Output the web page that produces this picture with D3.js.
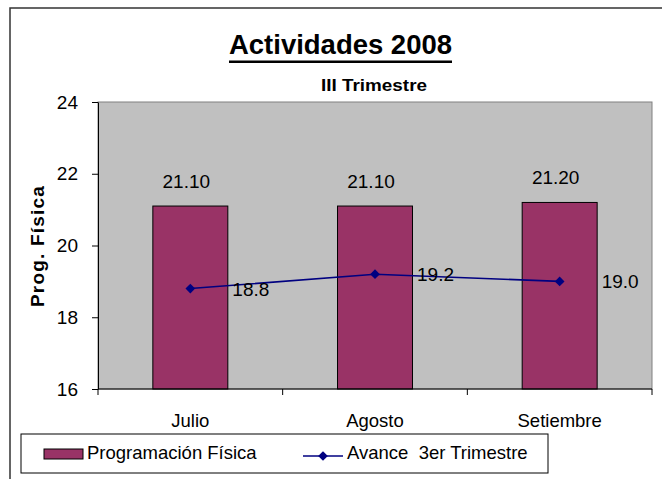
<!DOCTYPE html>
<html>
<head>
<meta charset="utf-8">
<script src="https://cdn.jsdelivr.net/npm/d3@7"></script>
<style>
  body { margin: 0; background: #fff; }
  svg { display: block; font-family: "Liberation Sans", Arial, sans-serif; }
</style>
</head>
<body>
<div id="chart"></div>
<script>
const months = ['Julio', 'Agosto', 'Setiembre'];
const programacion = [21.10, 21.10, 21.20];
const avance = [18.8, 19.2, 19.0];
const yTicks = [16, 18, 20, 22, 24];

const W = 662, H = 479;
const plot = { left: 98, right: 652, top: 102, bottom: 389 };

const svg = d3.select('#chart').append('svg')
    .attr('width', W)
    .attr('height', H);

// outer frame (runs past the picture edge)
svg.append('rect')
    .attr('x', 10).attr('y', 8)
    .attr('width', 700).attr('height', 520)
    .attr('fill', '#fff')
    .attr('stroke', '#333')
    .attr('stroke-width', 1.5);

const x = d3.scaleBand()
    .domain(months)
    .range([plot.left, plot.right])
    .padding(0);

const y = d3.scaleLinear()
    .domain([16, 24])
    .range([plot.bottom, plot.top]);

// plot area
svg.append('rect')
    .attr('x', plot.left).attr('y', plot.top)
    .attr('width', plot.right - plot.left)
    .attr('height', plot.bottom - plot.top)
    .attr('fill', '#c0c0c0')
    .attr('stroke', '#808080')
    .attr('stroke-width', 1);

// bars
const barW = x.bandwidth() * 0.406;
svg.selectAll('.bar')
    .data(programacion)
    .join('rect')
    .attr('class', 'bar')
    .attr('x', (d, i) => x(months[i]) + x.bandwidth() / 2 - barW / 2)
    .attr('y', d => y(d))
    .attr('width', barW)
    .attr('height', d => y(16) - y(d))
    .attr('fill', '#993366')
    .attr('stroke', '#000')
    .attr('stroke-width', 1);

svg.selectAll('.bar-label')
    .data(programacion)
    .join('text')
    .attr('class', 'bar-label')
    .attr('x', (d, i) => x(months[i]) + x.bandwidth() / 2 - 4)
    .attr('y', d => y(d) - 18)
    .attr('text-anchor', 'middle')
    .style('font-size', '19px')
    .text(d => d.toFixed(2));

// line series
const cx = (d, i) => x(months[i]) + x.bandwidth() / 2;
const line = d3.line()
    .x(cx)
    .y(d => y(d));

svg.append('path')
    .datum(avance)
    .attr('d', line)
    .attr('fill', 'none')
    .attr('stroke', '#000080')
    .attr('stroke-width', 1.6);

const diamond = d3.symbol().type(d3.symbolDiamond2).size(60);
svg.selectAll('.pt')
    .data(avance)
    .join('path')
    .attr('class', 'pt')
    .attr('d', diamond)
    .attr('transform', (d, i) => `translate(${cx(d, i)},${y(d)})`)
    .attr('fill', '#000080');

svg.selectAll('.pt-label')
    .data(avance)
    .join('text')
    .attr('class', 'pt-label')
    .attr('x', (d, i) => cx(d, i) + 42)
    .attr('y', d => y(d) + 7)
    .style('font-size', '19px')
    .text(d => d.toFixed(1));

// y axis
const yAxis = svg.append('g')
    .attr('transform', `translate(${plot.left},0)`)
    .call(d3.axisLeft(y).tickValues(yTicks).tickSize(6).tickPadding(14).tickSizeOuter(0));
yAxis.selectAll('text').style('font-size', '19px').attr('fill', '#000');
yAxis.selectAll('line, path').attr('stroke', '#000');

// x axis: ticks on category boundaries
const xAxis = svg.append('g')
    .attr('transform', `translate(0,${plot.bottom})`);
xAxis.append('line')
    .attr('x1', plot.left).attr('x2', plot.right)
    .attr('stroke', '#000');
const bounds = months.map(m => x(m)).concat([plot.right]);
xAxis.selectAll('.xt')
    .data(bounds)
    .join('line')
    .attr('class', 'xt')
    .attr('x1', d => d).attr('x2', d => d)
    .attr('y1', 0).attr('y2', 6)
    .attr('stroke', '#000');
xAxis.selectAll('.xl')
    .data(months)
    .join('text')
    .attr('class', 'xl')
    .attr('x', d => x(d) + x.bandwidth() / 2)
    .attr('y', 38)
    .attr('text-anchor', 'middle')
    .style('font-size', '18.5px')
    .text(d => d);

// y axis title
svg.append('text')
    .attr('transform', 'rotate(-90)')
    .attr('x', -246)
    .attr('y', 44)
    .attr('text-anchor', 'middle')
    .style('font-size', '19px')
    .style('font-weight', 'bold')
    .style('letter-spacing', '1.2px')
    .text('Prog. Física');

// titles
svg.append('text')
    .attr('x', 340.5)
    .attr('y', 54)
    .attr('text-anchor', 'middle')
    .style('font-size', '28px')
    .style('font-weight', 'bold')
    .attr('textLength', 223)
    .attr('lengthAdjust', 'spacingAndGlyphs')
    .text('Actividades 2008');
svg.append('rect')
    .attr('x', 229).attr('y', 60.5)
    .attr('width', 223).attr('height', 2.5)
    .attr('fill', '#000');

svg.append('text')
    .attr('x', (plot.left + plot.right) / 2 - 1)
    .attr('y', 91)
    .attr('text-anchor', 'middle')
    .style('font-size', '17px')
    .style('font-weight', 'bold')
    .attr('textLength', 106)
    .attr('lengthAdjust', 'spacingAndGlyphs')
    .text('III Trimestre');

// legend
const legend = svg.append('g');
legend.append('rect')
    .attr('x', 21).attr('y', 434)
    .attr('width', 527).attr('height', 39)
    .attr('fill', '#fff')
    .attr('stroke', '#000')
    .attr('stroke-width', 1);
legend.append('rect')
    .attr('x', 44).attr('y', 449)
    .attr('width', 39).attr('height', 10)
    .attr('fill', '#993366')
    .attr('stroke', '#000');
legend.append('text')
    .attr('x', 87).attr('y', 459)
    .style('font-size', '18.5px')
    .text('Programación Física');
legend.append('line')
    .attr('x1', 303).attr('x2', 343)
    .attr('y1', 456).attr('y2', 456)
    .attr('stroke', '#000080')
    .attr('stroke-width', 1.6);
legend.append('path')
    .attr('d', diamond)
    .attr('transform', 'translate(323,456)')
    .attr('fill', '#000080');
legend.append('text')
    .attr('x', 347).attr('y', 459)
    .style('font-size', '18.5px')
    .style('white-space', 'pre')
    .attr('xml:space', 'preserve')
    .text('Avance  3er Trimestre');
</script>
</body>
</html>
